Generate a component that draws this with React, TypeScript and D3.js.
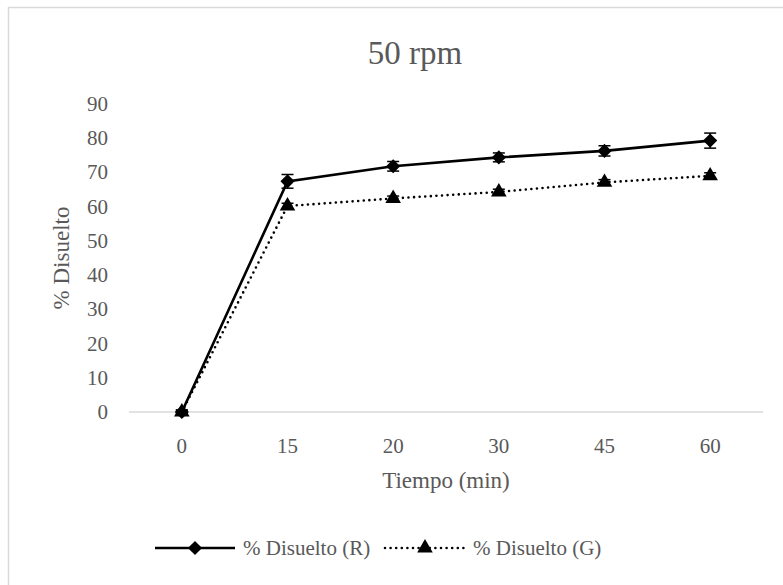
import * as d3 from "d3";

// Dissolution data at 50 rpm
const categories = ["0", "15", "20", "30", "45", "60"];
const seriesR = [0, 67.4, 71.8, 74.4, 76.3, 79.3];
const errorR = [0.6, 2.0, 1.4, 1.3, 1.5, 2.2];
const seriesG = [0, 60.2, 62.4, 64.3, 67.1, 69.0];
const errorG = [0.5, 0.8, 0.7, 0.8, 0.8, 0.9];
const yTicks = [0, 10, 20, 30, 40, 50, 60, 70, 80, 90];
const legendLabels = ["% Disuelto (R)", "% Disuelto (G)"];

const width = 783;
const height = 585;
const plotLeft = 129;
const plotRight = 763;
const plotTop = 104;
const plotBottom = 412;
const legendY = 548;

const textColor = "#595959";
const fontFamily = "'Liberation Serif', 'Times New Roman', serif";

const App = () => {
  const xScale = d3
    .scaleBand()
    .domain(categories)
    .range([plotLeft, plotRight])
    .padding(0);
  const yScale = d3.scaleLinear().domain([0, 90]).range([plotBottom, plotTop]);
  const cx = (c: string) => (xScale(c) as number) + xScale.bandwidth() / 2;

  const lineGen = d3
    .line<number>()
    .x((_, i) => cx(categories[i]))
    .y((d) => yScale(d));

  const diamond = d3.symbol(d3.symbolSquare, 100)();
  const triangle = d3.symbol(d3.symbolTriangle, 105)();

  const errorBars = (vals: number[], errs: number[], key: string) =>
    vals.map((v, i) => {
      const x = cx(categories[i]);
      const y0 = yScale(v - errs[i]);
      const y1 = yScale(v + errs[i]);
      return (
        <g key={key + i} stroke="#000" strokeWidth={1.5}>
          <line x1={x} x2={x} y1={y0} y2={y1} />
          <line x1={x - 6} x2={x + 6} y1={y0} y2={y0} />
          <line x1={x - 6} x2={x + 6} y1={y1} y2={y1} />
        </g>
      );
    });

  return (
    <svg
      width={width}
      height={height}
      style={{ position: "absolute", left: 0, top: 0, display: "block" }}
      fontFamily={fontFamily}
    >
      <rect x={0} y={0} width={width} height={height} fill="#fff" />
      {/* chart frame, runs off the right and bottom edge */}
      <rect
        x={8.5}
        y={7.5}
        width={820}
        height={620}
        fill="#fff"
        stroke="#d9d9d9"
        strokeWidth={1.5}
      />

      <text x={415} y={64} textAnchor="middle" fontSize={33} fill={textColor}>
        50 rpm
      </text>

      {/* y tick labels */}
      {yTicks.map((t) => (
        <text
          key={t}
          x={108}
          y={yScale(t) + 7}
          textAnchor="end"
          fontSize={21}
          fill={textColor}
        >
          {t}
        </text>
      ))}

      {/* baseline */}
      <line
        x1={plotLeft}
        x2={plotRight}
        y1={yScale(0)}
        y2={yScale(0)}
        stroke="#d9d9d9"
        strokeWidth={1.5}
      />

      {/* x tick labels */}
      {categories.map((c) => (
        <text
          key={c}
          x={cx(c)}
          y={453}
          textAnchor="middle"
          fontSize={21}
          fill={textColor}
        >
          {c}
        </text>
      ))}

      <text
        x={(plotLeft + plotRight) / 2}
        y={488}
        textAnchor="middle"
        fontSize={23}
        fill={textColor}
      >
        Tiempo (min)
      </text>
      <text
        transform={`translate(69,${(plotTop + plotBottom) / 2}) rotate(-90)`}
        textAnchor="middle"
        fontSize={23}
        fill={textColor}
      >
        % Disuelto
      </text>

      {/* series G (dotted, triangles) */}
      <path
        d={lineGen(seriesG) || ""}
        fill="none"
        stroke="#000"
        strokeWidth={2.6}
        strokeDasharray="0 5.6"
        strokeLinecap="round"
      />
      {errorBars(seriesG, errorG, "g")}
      {seriesG.map((v, i) => (
        <path
          key={"gt" + i}
          d={triangle || ""}
          transform={`translate(${cx(categories[i])},${yScale(v)})`}
          fill="#000"
        />
      ))}

      {/* series R (solid, diamonds) */}
      <path
        d={lineGen(seriesR) || ""}
        fill="none"
        stroke="#000"
        strokeWidth={2.6}
      />
      {errorBars(seriesR, errorR, "r")}
      {seriesR.map((v, i) => (
        <path
          key={"rd" + i}
          d={diamond || ""}
          transform={`translate(${cx(categories[i])},${yScale(v)}) rotate(45)`}
          fill="#000"
        />
      ))}

      {/* legend */}
      <g>
        <line x1={155} x2={235} y1={legendY} y2={legendY} stroke="#000" strokeWidth={2.6} />
        <path d={diamond || ""} transform={`translate(195,${legendY}) rotate(45)`} fill="#000" />
        <text x={243} y={legendY + 7} fontSize={21} fill={textColor}>
          {legendLabels[0]}
        </text>
        <line
          x1={385}
          x2={465}
          y1={legendY}
          y2={legendY}
          stroke="#000"
          strokeWidth={2.6}
          strokeDasharray="0 5.6"
          strokeLinecap="round"
        />
        <path d={triangle || ""} transform={`translate(425,${legendY})`} fill="#000" />
        <text x={473} y={legendY + 7} fontSize={21} fill={textColor}>
          {legendLabels[1]}
        </text>
      </g>
    </svg>
  );
};

export default App;
